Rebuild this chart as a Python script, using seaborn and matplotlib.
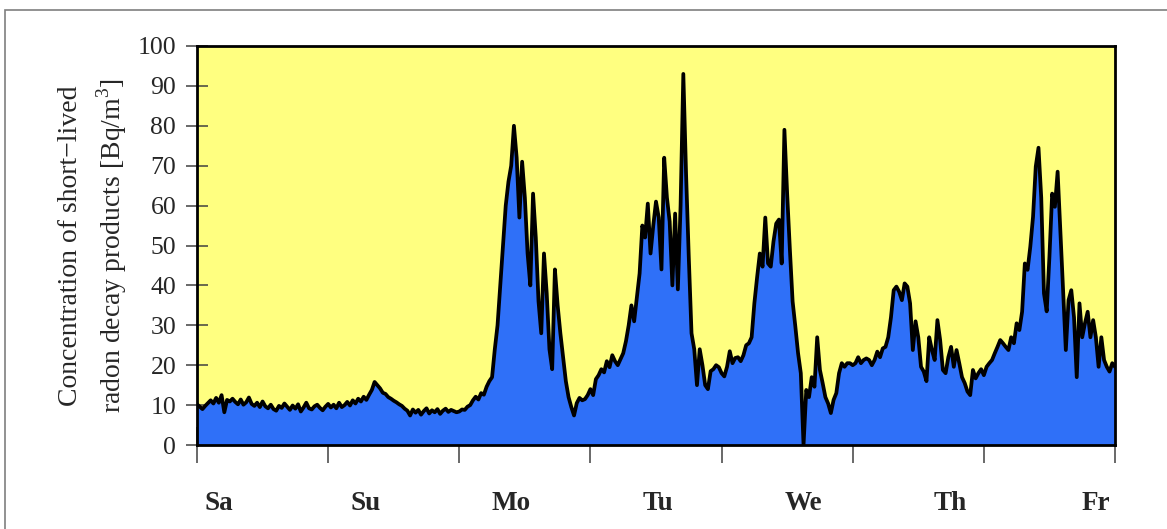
import numpy as np
import matplotlib
matplotlib.use("Agg")
import matplotlib.pyplot as plt
import matplotlib.patches as mpatches
import seaborn as sns

# ---- data: concentration [Bq/m3], one value every 30 minutes ----
day_names = ["Sa", "Su", "Mo", "Tu", "We", "Th", "Fr"]

saturday = [10.2, 9.6, 9.0, 9.8, 10.5, 11.2, 10.4, 11.8, 10.6, 12.5,
            8.2, 11.3, 10.9, 11.6, 10.8, 10.2, 11.4, 10.1, 10.7, 11.9,
            10.3, 9.8, 10.6, 9.5, 10.9, 9.7, 9.2, 10.1, 9.0, 8.6,
            9.8, 9.3, 10.4, 9.6, 8.8, 9.9, 9.1, 10.2, 8.4, 9.4,
            10.6, 9.2, 8.9, 9.7, 10.1, 9.3, 8.7, 9.6]
sunday = [10.3, 9.4, 10.1, 9.2, 10.6, 9.5, 10.0, 10.8, 9.9, 11.2,
          10.4, 11.6, 10.9, 12.1, 11.3, 12.6, 13.8, 15.8, 15.0, 14.2,
          13.1, 12.8, 12.0, 11.6, 11.1, 10.7, 10.2, 9.8, 9.1, 8.6,
          7.4, 8.9, 8.1, 8.8, 7.6, 8.5, 9.2, 7.9, 8.7, 8.2,
          9.0, 7.8, 8.6, 9.1, 8.3, 8.8, 8.5, 8.2]
monday = [8.4, 8.9, 8.8, 9.6, 10.0, 11.2, 12.1, 11.4, 13.0, 12.6,
          14.6, 16.0, 17.0, 24.0, 30.0, 40.0, 50.0, 60.0, 66.0, 70.0,
          80.0, 72.0, 57.0, 71.0, 62.0, 48.0, 40.0, 63.0, 52.0, 36.0,
          28.0, 48.0, 38.0, 24.0, 19.0, 44.0, 35.0, 28.0, 22.0, 16.0,
          12.0, 9.5, 7.4, 10.5, 11.8, 11.2, 11.5, 12.5]
tuesday = [14.0, 12.5, 16.5, 17.5, 19.0, 18.2, 21.0, 19.5, 22.5, 21.0,
           20.0, 21.5, 23.0, 26.0, 30.0, 35.0, 31.0, 37.0, 43.0, 55.0,
           52.0, 60.5, 48.0, 55.0, 61.0, 57.0, 44.0, 72.0, 62.0, 56.0,
           40.0, 58.0, 39.0, 60.0, 93.0, 68.0, 47.0, 28.0, 24.0, 15.0,
           24.0, 20.0, 15.0, 14.0, 18.5, 19.0, 20.0, 19.5]
wednesday = [18.0, 17.2, 19.6, 23.5, 20.5, 21.8, 22.0, 21.0, 22.5, 25.0,
             25.5, 27.0, 35.5, 42.0, 48.0, 44.7, 57.0, 45.5, 44.7, 51.0,
             55.5, 56.5, 45.5, 79.0, 63.0, 49.0, 36.0, 29.7, 23.0, 18.0,
             0.0, 13.8, 12.0, 17.0, 14.6, 27.0, 18.8, 15.5, 12.0, 10.4,
             8.0, 11.3, 13.0, 18.0, 20.5, 19.6, 20.5, 20.5]
thursday = [20.0, 20.5, 22.0, 20.5, 21.3, 21.7, 21.3, 20.0, 21.3, 23.4,
            22.0, 24.2, 24.6, 27.0, 32.0, 38.8, 39.7, 38.4, 36.3, 40.5,
            39.7, 35.5, 23.8, 31.0, 27.0, 19.6, 18.4, 16.0, 27.0, 23.8,
            21.3, 31.3, 26.3, 18.8, 18.0, 22.0, 24.6, 19.6, 23.8, 20.5,
            17.0, 15.5, 13.4, 12.5, 18.8, 16.7, 18.0, 19.0]
friday = [17.5, 19.6, 20.5, 21.3, 23.0, 24.6, 26.3, 25.5, 24.6, 23.8,
          27.0, 25.5, 30.5, 28.8, 33.4, 45.5, 43.9, 49.7, 57.2, 69.8,
          74.5, 62.0, 38.0, 33.5, 47.2, 63.0, 59.7, 68.5, 53.9, 38.8,
          23.8, 36.3, 38.8, 32.0, 17.0, 35.5, 27.0, 30.5, 33.4, 27.0,
          31.3, 27.0, 19.6, 27.0, 21.3, 19.6, 18.4, 20.5, 19.6]

values = np.array(saturday + sunday + monday + tuesday + wednesday + thursday + friday)
samples_per_day = 48
time_days = np.arange(len(values)) / samples_per_day

yticks = list(range(0, 101, 10))
ylabel = "Concentration of short\u2212lived\nradon decay products [Bq/m$^\\mathrm{3}$]"

# ---- style ----
sns.set_theme(style="white")
plt.rcParams["font.family"] = ["Liberation Serif", "DejaVu Serif"]
plt.rcParams["mathtext.fontset"] = "custom"
plt.rcParams["mathtext.rm"] = "Liberation Serif"

W, H = 1167, 529
fig = plt.figure(figsize=(W / 100, H / 100), dpi=100)
fig.patch.set_facecolor("white")
ax = fig.add_axes([197 / W, 1 - 445 / H, (1115 - 197) / W, (445 - 46) / H])
ax.set_facecolor("#FFFF80")

ax.fill_between(time_days, values, 0, color="#2F70F8", lw=0, zorder=2)
sns.lineplot(x=time_days, y=values, color="black", lw=2.7, ax=ax, zorder=3)

ax.set_xlim(0, 7)
ax.set_ylim(0, 100)
ax.set_yticks(yticks)
ax.set_yticklabels([str(v) for v in yticks], fontsize=18.5)

# day boundaries as major ticks, day names as minor ticks
ax.set_xticks(range(0, 8))
ax.set_xticklabels([])
label_spacing = 146.2 / 131.14
ax.set_xticks([0.168 + i * label_spacing for i in range(len(day_names))], minor=True)
ax.set_xticklabels(day_names, minor=True, fontsize=19.5, fontweight="bold")
ax.tick_params(axis="x", which="major", direction="inout", length=26, width=1.1,
               color="#404040", bottom=True)
ax.tick_params(axis="x", which="minor", length=0, pad=33)
ax.tick_params(axis="y", which="major", direction="inout", length=16, width=1.1,
               color="#404040", left=True, pad=7)

for s in ax.spines.values():
    s.set_color("black")
    s.set_linewidth(2)
    s.set_zorder(5)

ax.set_ylabel(ylabel, fontsize=20, linespacing=1.45)
ax.yaxis.set_label_coords(-0.074, 0.5)

# outer frame
fig.patches.append(mpatches.Rectangle((5 / W, -0.1), 1.2, 1 - 10 / H + 0.1,
                                      transform=fig.transFigure, fill=False,
                                      edgecolor="#7f7f7f", lw=1.2))

fig.savefig("out.png", dpi=100)
